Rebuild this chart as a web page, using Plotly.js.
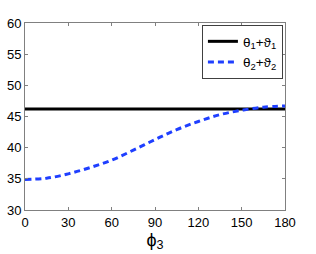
<!DOCTYPE html>
<html><head><meta charset="utf-8">
<script src="https://cdn.plot.ly/plotly-3.0.1.min.js"></script>
<style>html,body{margin:0;padding:0;background:#fff;}#chart{width:316px;height:254px;}</style>
</head><body><div id="chart"></div>
<script>
const phi3 = [0, 15, 30, 45, 60, 75, 90, 105, 120, 135, 150, 165, 180];
const sum1 = [46.2, 46.2, 46.2, 46.2, 46.2, 46.2, 46.2, 46.2, 46.2, 46.2, 46.2, 46.2, 46.2];
const sum2 = [34.9, 35.1, 35.8, 36.8, 38.0, 39.6, 41.3, 42.9, 44.2, 45.3, 46.0, 46.5, 46.7];
const seriesNames = ['θ<sub>1</sub>+ϑ<sub>1</sub>', 'θ<sub>2</sub>+ϑ<sub>2</sub>'];
const xTicks = [0, 30, 60, 90, 120, 150, 180];
const yTicks = [30, 35, 40, 45, 50, 55, 60];

const traces = [
  {x: phi3, y: sum1, name: seriesNames[0], mode: 'lines', line: {color: '#000000', width: 3}},
  {x: phi3, y: sum2, name: seriesNames[1], mode: 'lines', line: {color: '#1f3fff', width: 3, dash: '6px,4px', shape: 'spline'}}
];
const axisCommon = {
  showline: true, mirror: 'ticks', linecolor: '#808080', linewidth: 1,
  ticks: 'inside', ticklen: 3, tickcolor: '#808080', showgrid: false, zeroline: false,
  tickfont: {family: 'Liberation Sans, Arial, sans-serif', size: 13, color: '#000'}
};
const layout = {
  width: 316, height: 254,
  margin: {l: 25, r: 31, t: 23, b: 44},
  paper_bgcolor: '#fff', plot_bgcolor: '#fff',
  showlegend: true,
  legend: {x: 0.992, xanchor: 'right', y: 0.989, yanchor: 'top', bgcolor: '#fff',
    bordercolor: '#404040', borderwidth: 1, tracegroupgap: 0,
    font: {family: 'Liberation Sans, Arial, sans-serif', size: 13.5, color: '#000'}},
  xaxis: Object.assign({}, axisCommon, {range: [0, 180], tickvals: xTicks,
    title: {text: 'ϕ<sub>3</sub>', font: {family: 'Liberation Sans, Arial, sans-serif', size: 18, color: '#000'}, standoff: 0}}),
  yaxis: Object.assign({}, axisCommon, {range: [30, 60], tickvals: yTicks})
};
Plotly.newPlot('chart', traces, layout, {staticPlot: true, displayModeBar: false});
</script></body></html>
